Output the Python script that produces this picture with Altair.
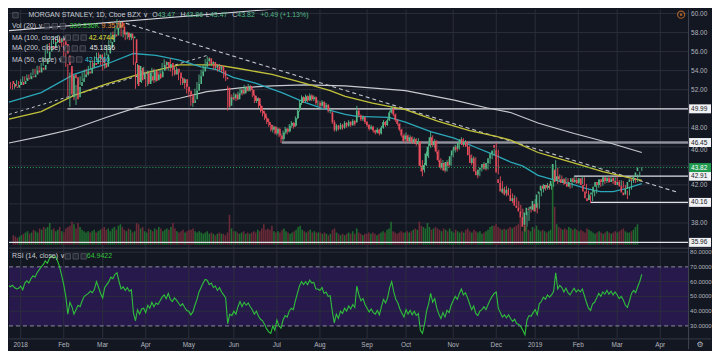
import altair as alt
import pandas as pd

# ---------------- data ----------------
# daily candles (open, high, low, close), one list per month
dec17 = [(52.9,53.1,52.4,52.6),(52.6,52.8,52.1,52.3),(52.3,52.6,52.0,52.2),(52.2,52.7,52.1,52.5),(52.5,53.0,52.4,52.8),(52.8,52.9,52.3,52.5)]
jan18 = [(52.6,53.1,52.5,52.9),(52.9,53.4,52.8,53.2),(53.2,53.4,52.9,53.1),(53.1,53.6,53.0,53.4),(53.4,53.6,53.1,53.3),
         (53.3,53.8,53.2,53.6),(53.6,54.2,53.5,54.0),(54.0,54.2,53.6,53.8),(53.8,54.5,53.7,54.3),(54.3,54.5,53.9,54.1),
         (54.1,54.8,54.0,54.6),(54.7,55.4,54.5,55.2),(55.2,56.2,55.0,56.0),(56.0,56.8,55.8,56.6),(56.6,56.9,56.1,56.3),
         (56.4,57.2,56.2,57.0),(57.0,57.6,56.8,57.3),(57.3,57.5,56.7,56.9),(57.0,57.7,56.9,57.4),(57.4,57.6,56.9,57.1),
         (57.1,57.4,56.5,56.7)]
feb18 = [(56.8,57.0,55.5,55.8),(55.6,55.9,54.4,54.6),(54.5,54.7,51.3,51.5),(51.2,53.8,50.2,53.5),(53.6,54.2,52.9,53.2),
         (53.3,53.5,50.9,51.0),(51.2,52.5,50.4,52.3),(52.4,53.0,52.0,52.8),(52.8,53.4,52.5,53.2),(53.3,53.8,52.9,53.6),
         (53.6,54.1,53.2,53.9),(53.9,54.2,53.4,53.7),(53.7,54.5,53.5,54.3),(54.3,55.0,54.1,54.8),(54.8,55.1,54.3,54.6),
         (54.7,55.5,54.5,55.3),(55.3,55.9,55.1,55.7),(55.7,55.9,55.1,55.3),(55.3,55.6,54.6,54.8)]
mar18 = [(54.8,55.3,54.0,54.3),(54.4,55.9,54.2,55.7),(55.8,56.6,55.6,56.4),(56.4,57.2,56.2,57.0),(57.0,58.0,56.9,57.8),
         (57.8,58.1,57.3,57.6),(57.7,58.7,57.5,58.5),(58.5,59.4,58.3,59.1),(59.1,59.2,58.4,58.6),(58.6,58.8,57.6,57.8),
         (57.8,58.3,57.5,58.0),(58.0,58.1,57.2,57.5),(57.5,58.1,57.3,57.9),(57.9,58.0,57.2,57.4),(57.4,57.9,57.2,57.6),
         (57.3,57.4,54.6,54.8),(54.6,54.9,52.1,52.4),(52.8,54.7,52.6,54.5),(54.3,54.5,52.8,53.0),(53.1,54.0,52.7,53.8),
         (53.9,54.4,53.6,53.9)]
apr18 = [(53.7,53.9,52.3,52.6),(52.6,54.0,52.4,53.8),(53.4,53.9,52.8,53.0),(53.0,54.3,52.9,54.1),(54.0,54.2,52.7,52.9),
         (53.0,53.8,52.8,53.6),(53.7,53.9,53.0,53.2),(53.3,54.1,53.1,53.9),(54.0,54.8,53.8,54.6),(54.6,55.2,54.4,54.9),
         (54.9,55.0,54.1,54.3),(54.3,54.9,54.0,54.7),(54.8,55.3,53.9,54.1),(54.1,54.3,53.4,53.6),(53.6,54.4,53.5,54.2),
         (54.2,54.4,53.6,53.8),(53.8,53.9,53.0,53.2),(53.2,53.4,52.5,52.7),(52.7,53.3,52.5,53.1),(53.1,53.2,52.1,52.3),
         (52.3,52.6,51.6,51.8)]
may18 = [(51.9,52.1,51.2,51.5),(51.5,51.7,50.3,50.6),(50.6,51.2,50.2,50.9),(51.0,52.1,50.9,51.9),(51.9,52.8,51.7,52.6),
         (52.6,53.6,52.5,53.4),(53.4,54.1,53.2,53.9),(53.9,54.6,53.7,54.4),(54.4,55.2,54.3,54.9),(55.0,55.5,54.8,55.3),
         (55.3,55.4,54.5,54.7),(54.7,55.2,54.5,54.9),(54.9,55.0,54.1,54.3),(54.3,54.8,54.1,54.6),(54.6,54.7,53.9,54.1),
         (54.1,54.7,54.0,54.5),(54.5,54.6,53.8,54.0),(54.0,54.2,53.2,53.4),(53.3,53.6,52.9,53.1),(52.2,52.4,49.8,50.2),
         (50.3,51.4,50.1,51.2),(51.2,51.5,50.7,51.0)]
jun18 = [(51.1,51.7,50.9,51.5),(51.5,51.6,50.8,51.0),(51.0,51.8,50.9,51.6),(51.6,52.2,51.4,52.0),(52.0,52.1,51.4,51.6),
         (51.6,52.5,51.5,52.3),(52.3,52.4,51.7,51.9),(51.9,52.6,51.8,52.4),(52.4,52.5,51.8,52.0),(52.0,52.1,51.2,51.4),
         (51.4,51.5,50.6,50.8),(50.8,51.3,50.6,51.1),(51.1,51.2,50.1,50.3),(50.3,50.5,49.6,49.8),(49.8,50.0,49.2,49.5),
         (49.5,49.7,48.8,49.0),(49.0,49.2,48.4,48.6),(48.6,48.9,48.1,48.3),(48.3,48.4,47.6,47.8),(47.8,48.3,47.5,48.1),
         (48.1,48.2,47.3,47.4)]
jul18 = [(47.4,48.1,47.2,47.9),(47.9,48.0,47.0,47.2),(47.2,47.4,46.4,46.8),(46.8,47.7,46.6,47.5),(47.5,48.1,47.3,47.9),
         (47.9,48.0,47.3,47.6),(47.6,48.4,47.5,48.2),(48.2,48.7,48.0,48.5),(48.5,48.6,47.9,48.1),(48.2,49.2,48.1,49.0),
         (49.0,50.0,48.9,49.8),(49.9,50.9,49.7,50.6),(50.6,51.4,50.4,51.2),(51.2,51.3,50.6,50.8),(50.8,51.5,50.7,51.3),
         (51.3,51.4,50.7,50.9),(50.9,51.6,50.8,51.4),(51.4,51.5,50.8,51.0),(51.0,51.4,50.8,51.2),(51.2,51.3,50.4,50.6),
         (50.6,50.9,50.3,50.6)]
aug18 = [(50.6,50.8,50.1,50.3),(50.3,50.9,50.2,50.7),(50.7,50.8,49.9,50.1),(50.1,50.6,50.0,50.4),(50.4,50.5,49.6,49.8),
         (49.8,50.1,49.5,49.9),(49.6,49.7,48.4,48.6),(48.6,48.8,47.6,47.8),(47.8,48.4,47.6,48.2),(48.2,48.3,47.7,47.9),
         (47.9,48.5,47.8,48.3),(48.3,48.4,47.8,48.0),(48.0,48.7,47.9,48.5),(48.5,48.6,48.0,48.2),(48.2,48.8,48.1,48.6),
         (48.6,48.7,48.1,48.3),(48.3,48.9,48.2,48.7),(48.7,48.8,48.2,48.4),(48.6,50.3,48.5,49.8),(49.8,50.0,49.1,49.3),
         (49.3,49.4,48.7,48.9),(48.9,49.3,48.7,49.1),(49.1,49.2,48.4,48.6)]
sep18 = [(48.6,48.7,48.1,48.3),(48.3,48.4,47.7,47.9),(47.9,48.3,47.8,48.1),(48.1,48.2,47.5,47.7),(47.7,47.8,47.3,47.5),
         (47.5,48.0,47.4,47.8),(47.8,47.9,47.2,47.4),(47.4,48.2,47.3,48.0),(48.0,48.8,47.9,48.6),(48.6,48.7,48.1,48.3),
         (48.3,49.0,48.2,48.8),(48.8,49.8,48.7,49.6),(49.6,50.3,49.5,50.0),(50.0,50.1,49.2,49.4),(49.4,49.5,48.6,48.8),
         (48.8,48.9,48.2,48.4),(48.4,48.5,47.6,47.8),(47.8,47.9,47.0,47.2),(47.2,47.4,46.4,46.6)]
oct18 = [(46.8,47.5,46.6,47.2),(47.2,47.3,46.4,46.6),(46.6,47.2,46.5,47.0),(47.0,47.1,46.3,46.5),(46.5,47.0,46.3,46.8),
         (46.8,46.9,46.1,46.3),(46.3,46.9,46.2,46.6),(46.5,46.6,43.9,44.0),(44.0,44.6,42.9,43.4),(43.6,44.3,43.3,44.1),
         (44.1,45.5,44.0,45.3),(45.0,46.3,44.8,46.0),(46.1,47.6,45.9,47.0),(47.0,47.2,46.0,46.2),(46.2,46.8,45.9,46.6),
         (46.6,46.7,45.3,45.5),(45.5,45.7,44.4,44.6),(44.6,44.8,43.6,43.8),(43.8,44.6,43.5,44.3),(44.3,44.4,43.3,43.5),
         (43.5,44.6,43.4,44.4),(44.4,44.7,43.8,44.0),(44.1,45.2,44.0,45.0)]
nov18 = [(45.1,45.8,44.9,45.6),(45.6,46.2,45.4,46.0),(46.0,46.1,45.5,45.7),(45.8,46.6,45.7,46.4),(46.4,47.0,46.3,46.8),
         (46.8,46.9,46.0,46.2),(46.2,46.7,46.1,46.5),(46.5,46.6,45.8,46.0),(46.0,46.1,44.9,45.1),(45.1,45.2,44.1,44.3),
         (44.3,45.0,44.2,44.8),(44.8,44.9,43.2,43.4),(43.4,43.6,42.7,43.0),(43.0,43.8,42.9,43.6),(43.6,44.0,43.4,43.8),
         (43.8,44.4,43.6,44.2),(44.2,44.3,43.5,43.7),(43.7,44.5,43.6,44.3),(44.3,45.0,44.2,44.8),(44.8,45.5,44.7,45.3),
         (45.3,45.8,45.1,45.6)]
dec18 = [(46.2,46.4,45.4,45.9),(45.6,45.7,43.1,43.3),(42.6,42.9,41.8,42.2),(42.2,42.4,41.1,41.3),(41.2,41.8,40.9,41.6),
         (41.6,41.9,40.8,41.0),(41.1,41.7,40.9,41.5),(41.5,41.6,40.7,40.9),(40.9,41.1,40.1,40.3),(40.3,40.9,40.2,40.6),
         (40.6,40.7,39.6,39.8),(39.8,40.3,39.4,39.6),(39.6,39.9,39.0,39.2),(39.2,39.5,38.4,38.6),(38.6,38.7,37.1,37.6),
         (37.8,39.2,37.6,39.1),(38.8,39.7,38.2,39.6),(39.5,39.8,39.1,39.4),(39.5,39.9,39.3,39.7)]
jan19 = [(39.4,40.5,39.2,40.3),(40.0,40.1,39.0,39.2),(39.6,41.2,39.5,41.0),(41.1,41.6,40.8,41.3),(41.4,42.1,41.2,41.9),
         (41.9,42.0,41.4,41.6),(41.6,42.2,41.5,42.0),(42.0,42.1,41.5,41.7),(41.7,42.1,41.5,41.9),(41.9,42.6,41.8,42.4),
         (42.6,44.6,42.5,44.2),(43.6,43.8,42.1,42.3),(42.4,43.1,42.3,42.9),(42.9,43.0,42.4,42.6),(42.6,42.7,42.0,42.2),
         (42.2,42.8,42.1,42.6),(42.6,42.7,41.9,42.1),(42.1,42.2,41.6,41.8),(41.8,42.5,41.7,42.3),(42.3,42.9,42.2,42.7),
         (42.7,42.8,42.1,42.3)]
feb19 = [(42.3,42.7,42.1,42.5),(42.5,42.6,42.0,42.2),(42.2,42.9,42.1,42.7),(42.7,42.8,41.9,42.0),(42.0,42.1,41.1,41.3),
         (41.3,41.4,40.4,40.6),(40.6,40.9,40.1,40.3),(40.4,41.2,40.3,41.0),(41.0,41.4,40.8,41.2),(41.2,42.0,41.1,41.8),
         (41.8,42.5,41.7,42.3),(42.3,42.4,41.8,42.0),(42.0,42.8,41.9,42.6),(42.6,42.7,42.1,42.3),(42.3,43.0,42.2,42.8),
         (42.8,42.9,42.2,42.4),(42.4,42.9,42.3,42.7),(42.7,42.8,42.1,42.3),(42.3,42.8,42.2,42.6)]
mar19 = [(42.7,42.9,42.2,42.4),(42.4,42.5,41.8,42.0),(42.0,42.5,41.9,42.3),(42.3,42.4,41.7,41.9),(41.9,42.0,41.0,41.2),
         (41.2,41.4,40.5,40.9),(41.0,41.8,40.9,41.6),(41.6,42.5,41.5,42.3),(42.3,42.8,42.2,42.6),(42.6,42.7,42.2,42.4),
         (42.4,43.1,42.3,42.9),(42.9,43.4,42.8,43.3),(43.47,43.86,43.47,43.82)]

# volume per bar (millions)
volume_m = [7, 6, 5, 6, 7, 8,
    9, 10, 8, 9, 11, 10, 9, 12, 11, 13, 12, 13, 16, 11, 12, 10, 11, 13, 10, 9, 12,
    13, 14, 17, 15, 12, 16, 13, 11, 10, 9, 10, 9, 10, 11, 9, 10, 11, 12, 13,
    11, 12, 10, 12, 13, 11, 14, 15, 13, 11, 10, 12, 11, 9, 10, 16, 15, 12, 13, 10, 9,
    12, 11, 10, 12, 11, 13, 12, 10, 11, 12, 11, 13, 16, 12, 10, 9, 10, 11, 9, 10, 11,
    11, 12, 10, 9, 10, 9, 8, 9, 10, 8, 9, 8, 7, 8, 9, 8, 8, 7, 9, 22, 12, 10,
    10, 9, 8, 9, 10, 8, 9, 8, 9, 10, 9, 11, 10, 12, 15, 11, 12, 11, 14, 10, 9,
    10, 9, 11, 12, 10, 9, 8, 9, 10, 11, 13, 14, 11, 10, 9, 10, 11, 9, 10, 9, 9,
    9, 8, 9, 8, 7, 8, 11, 12, 9, 8, 7, 8, 7, 8, 9, 8, 10, 8, 12, 9, 8, 7, 8,
    8, 9, 8, 9, 8, 7, 8, 9, 10, 9, 11, 12, 17, 10, 9, 8, 9, 10, 9,
    9, 10, 9, 10, 11, 12, 11, 17, 14, 13, 12, 16, 13, 11, 12, 13, 12, 11, 10, 12, 11, 10, 12,
    10, 9, 11, 10, 9, 10, 9, 11, 12, 10, 9, 11, 10, 9, 10, 8, 9, 10, 11, 13, 14,
    14, 15, 13, 12, 11, 12, 11, 12, 13, 12, 13, 14, 15, 21, 10, 14, 13, 11, 10,
    13, 12, 14, 11, 10, 11, 10, 9, 10, 11, 59, 28, 15, 13, 12, 11, 12, 11, 13, 12, 11,
    12, 11, 10, 11, 10, 9, 12, 11, 10, 9, 8, 9, 10, 9, 8, 9, 10, 9, 8,
    9, 10, 9, 10, 11, 12, 10, 9, 9, 10, 11, 13, 15]

# RSI(14) per bar
rsi14 = [57.5, 56.5, 57.5, 56, 55, 55.5,
    57, 54.5, 59, 60.5, 59, 62, 64, 63, 66, 68, 70, 71.5, 74, 72.5, 75.5, 77.5, 76, 77, 74, 70, 64,
    58, 50, 38, 46, 43, 38, 41, 44, 43, 47, 50, 51, 52, 53.5, 52.5, 55, 60, 56, 52,
    49, 56, 58, 60, 63, 62, 65, 66, 60, 55, 56.5, 54, 56, 53.5, 54.5, 39, 33.5, 41, 38, 41.5, 42,
    39, 44, 42, 46, 43, 45.5, 44.5, 47, 49.5, 51, 48.5, 52, 48, 46.5, 49, 47.5, 45.5, 43.5, 45, 42.5, 40.5,
    40, 37.5, 39.5, 44, 48, 53, 56, 59, 61.5, 61, 58, 59, 56, 57, 54, 56, 53, 51, 49, 31.5, 38, 37,
    40, 38, 43, 46.5, 43, 46, 44, 45.5, 43, 41, 38, 40, 36.5, 34.5, 33.5, 31, 28, 26, 25, 30, 27,
    34, 30, 28.5, 34, 37, 36, 40, 42, 41, 47, 52, 57, 60, 58, 60, 58, 61, 59, 59.5, 55, 55,
    54, 56, 52, 53, 50, 50.5, 40, 32, 38, 35, 40, 38.5, 42, 40, 43.5, 41.5, 44.5, 42.5, 57, 51, 47, 48.5, 44.5,
    42, 39.5, 41.5, 39, 38, 40.5, 37.5, 43, 48, 45.5, 49, 56, 60, 53, 48, 45.5, 41.5, 38.5, 36,
    41, 38, 40.5, 37.5, 40, 37, 38.5, 27, 25, 31, 40, 45, 52, 46, 48.5, 42, 38, 35, 39, 36, 40.5, 39, 44,
    47, 50, 48, 52, 55, 51, 52.5, 49, 45, 41, 43.5, 38.5, 37, 40, 41, 43, 41, 44.5, 47.5, 50, 52,
    53, 42, 39, 36, 37.5, 35.5, 37.5, 35, 33, 34.5, 31.5, 31, 29.5, 27, 24, 34, 37, 36.5, 39,
    41, 37.5, 45, 46.5, 49.5, 48, 51, 49.5, 51, 53.5, 66, 55, 57.5, 56, 53, 55.5, 52.5, 51, 53.5, 55.5, 53,
    54.5, 53, 55, 50.5, 46, 42, 40.5, 45, 46, 49, 52, 50, 53, 51.5, 54, 51.5, 53.5, 51, 53,
    51, 48.5, 50, 47.5, 44, 42.5, 47, 52, 54, 52.5, 56.5, 60, 64.94]

# moving averages read as (bar index, value) points
ma50_pts = [(-5.7, 50.7), (10, 51.7), (26, 53.6), (42, 54.7), (55, 55.8), (66, 55.6), (77.5, 55.1), (88, 54.4),
            (95.5, 54.1), (103.6, 53.3), (114.5, 52.7), (127.4, 51.7), (138.3, 50.7), (146.4, 50.1), (158.3, 49.4),
            (164, 49.2), (179.7, 49.1), (187.7, 48.6), (200, 47.6), (211.5, 46.9), (222.4, 45.9), (230.5, 45.2),
            (239, 44.4), (244.8, 44.0), (252.4, 43.0), (260.5, 42.5), (268.5, 42.1), (276, 41.6), (282.8, 41.3),
            (289, 41.3), (295.2, 41.6), (303, 42.13)]
ma100_pts = [(-5.7, 48.9), (10, 49.7), (26, 51.4), (42, 52.6), (57.5, 53.6), (77.5, 54.6), (95.5, 54.6), (107, 54.2),
             (122.6, 53.6), (138.3, 52.7), (151, 51.9), (158.3, 51.3), (171.6, 50.6), (187.7, 49.9), (203.4, 48.7),
             (219, 47.7), (232, 47.1), (239, 46.7), (252.4, 45.4), (260.5, 44.9), (268.5, 44.4), (284, 43.4),
             (296, 42.8), (303, 42.47)]
ma200_pts = [(-5.7, 46.4), (10, 47.1), (26, 47.9), (42, 49.1), (57.5, 50.2), (77.5, 51.1), (90.8, 51.8), (107, 52.2),
             (122.6, 52.4), (138.3, 52.5), (158.3, 52.4), (187.7, 51.9), (211.5, 50.9), (227.2, 50.1), (239, 49.6),
             (252.4, 48.5), (270, 47.4), (287.5, 46.4), (303, 45.4)]

# drawn objects
trend_solid = [(-5.7, 58.2), (125, 60.5)]
trend_down = [(48, 59.2), (320.8, 41.2)]
trend_up = [(-5.7, 49.4), (91, 55.6)]
level_price = [49.99, 46.45, 42.91, 40.16, 35.96]
level_start = [22.8, 127.4, 270.0, 278.0, -5.7]
last_close = 43.82

# axes
month_start = [0, 21, 40, 61, 82, 104, 125, 146, 169, 188, 211, 232, 251, 272, 291, 312]
month_names = ["2018", "Feb", "Mar", "Apr", "May", "Jun", "Jul", "Aug", "Sep", "Oct", "Nov", "Dec",
               "2019", "Feb", "Mar", "Apr"]
price_grid = [38, 40, 42, 44, 46, 48, 50, 52, 54, 56, 58, 60]
price_labels = [38, 42, 48, 52, 54, 56, 58, 60]
price_label_under_box = [46]
rsi_grid = [40, 50, 60, 80]
rsi_labels = [80, 70, 60, 50, 40, 30]

# ---------------- build frames ----------------
months = [dec17, jan18, feb18, mar18, apr18, may18, jun18, jul18, aug18, sep18, oct18, nov18,
          dec18, jan19, feb19, mar19]
rows = []
idx = -6
for m in months:
    for o, h, l, c in m:
        rows.append({"i": idx, "o": o, "h": h, "l": l, "c": c})
        idx += 1
if not (len(rows) == len(volume_m) == len(rsi14)):
    raise ValueError(f"length mismatch {len(rows)} {len(volume_m)} {len(rsi14)}")
df = pd.DataFrame(rows)
df["v"] = volume_m
df["rsi"] = rsi14

BG = "#131722"
GRID = "#2a2e3a"
BAND = "#27194c"
UP, DN = "#53b987", "#eb4d5c"
VUP, VDN = "#1f6a2e", "#6a2a38"
TXT = "#c9ccd4"
AX = "#b2b5be"
FONT = "Liberation Sans"

df["col"] = [UP if c >= o else DN for o, c in zip(df.o, df.c)]
df["vcol"] = [VUP if c >= o else VDN for o, c in zip(df.o, df.c)]

W = 682
PB = 239
RT, RB = 240, 330

XS = alt.Scale(domain=[-5.7, 325.6], range=[0, W], nice=False, zero=False)
PS = alt.Scale(domain=[35.4, 60.4], range=[PB, 0], nice=False, zero=False)
VS = alt.Scale(domain=[0, 173], range=[236, 0], nice=False, zero=True)
RS = alt.Scale(domain=[21.6, 82.3], range=[RB, RT], nice=False, zero=False)
PXS = alt.Scale(domain=[0, 720], range=[0, 720], nice=False, zero=False)
PYS = alt.Scale(domain=[0, 360], range=[0, 360], nice=False, zero=False)


def xi(f="i"):
    return alt.X(f"{f}:Q", scale=XS, axis=None)


def yp(f):
    return alt.Y(f"{f}:Q", scale=PS, axis=None)


def yr(f):
    return alt.Y(f"{f}:Q", scale=RS, axis=None)


one = pd.DataFrame({"z": [0]})
L = []

# RSI band
L.append(alt.Chart(pd.DataFrame({"lo": [30], "hi": [70]})).mark_rect(color=BAND).encode(
    x=alt.value(0), x2=alt.value(W), y=yr("lo"), y2="hi:Q"))

# grids
mdf = pd.DataFrame({"i": month_start, "t": month_names})
L.append(alt.Chart(mdf).mark_rule(color=GRID, strokeWidth=1).encode(
    x=xi(), y=alt.value(0), y2=alt.value(RB)))
L.append(alt.Chart(pd.DataFrame({"p": price_grid})).mark_rule(color=GRID, strokeWidth=1).encode(
    x=alt.value(0), x2=alt.value(W), y=yp("p")))
L.append(alt.Chart(pd.DataFrame({"r": rsi_grid})).mark_rule(color=GRID, strokeWidth=1).encode(
    x=alt.value(0), x2=alt.value(W), y=yr("r")))

# volume
L.append(alt.Chart(df).mark_bar(size=1.6, clip=True).encode(
    x=xi(), y=alt.Y("v:Q", scale=VS, axis=None), color=alt.Color("vcol:N", scale=None)))

# horizontal levels
lev = pd.DataFrame({"p": level_price, "a": level_start})
L.append(alt.Chart(lev).transform_filter("datum.p != 46.45").mark_rule(
    color="#dfe1e6", strokeWidth=1.2, clip=True).encode(x=xi("a"), x2=alt.value(W), y=yp("p")))
L.append(alt.Chart(lev).transform_filter("datum.p == 46.45").mark_rule(
    color="#8e919a", strokeWidth=2.6, clip=True).encode(x=xi("a"), x2=alt.value(W), y=yp("p")))

# trend lines
def seg(pts):
    return pd.DataFrame({"i": [p[0] for p in pts], "p": [p[1] for p in pts]})

L.append(alt.Chart(seg(trend_solid)).mark_line(color="#d6d8de", strokeWidth=1.2, clip=True).encode(
    x=xi(), y=yp("p")))
L.append(alt.Chart(seg(trend_down)).mark_line(color="#c3c5cc", strokeWidth=1.1, strokeDash=[4, 3], clip=True).encode(
    x=xi(), y=yp("p")))
L.append(alt.Chart(seg(trend_up)).mark_line(color="#c3c5cc", strokeWidth=1.0, strokeDash=[3, 3], clip=True).encode(
    x=xi(), y=yp("p")))

# moving averages
L.append(alt.Chart(seg(ma200_pts)).mark_line(color="#c8c9cf", strokeWidth=1.2, clip=True).encode(x=xi(), y=yp("p")))
L.append(alt.Chart(seg(ma100_pts)).mark_line(color="#c2c23a", strokeWidth=1.3, clip=True).encode(x=xi(), y=yp("p")))
L.append(alt.Chart(seg(ma50_pts)).mark_line(color="#2aa7b8", strokeWidth=1.3, clip=True).encode(x=xi(), y=yp("p")))

# candles
L.append(alt.Chart(df).mark_rule(strokeWidth=0.9, clip=True).encode(
    x=xi(), y=yp("l"), y2="h:Q", color=alt.Color("col:N", scale=None)))
L.append(alt.Chart(df).mark_bar(size=1.6, clip=True).encode(
    x=xi(), y=yp("o"), y2="c:Q", color=alt.Color("col:N", scale=None)))

# last price line
L.append(alt.Chart(pd.DataFrame({"p": [last_close]})).mark_rule(
    color="#2aa55a", strokeWidth=1, strokeDash=[1, 2]).encode(x=alt.value(0), x2=alt.value(W), y=yp("p")))

# RSI
L.append(alt.Chart(pd.DataFrame({"r": [30, 70]})).mark_rule(
    color="#8c8f99", strokeWidth=1, strokeDash=[4, 3]).encode(x=alt.value(0), x2=alt.value(W), y=yr("r")))
L.append(alt.Chart(df).mark_line(color="#2fbf3a", strokeWidth=1.1, clip=True).encode(x=xi(), y=yr("rsi")))

# separators
L.append(alt.Chart(one).mark_rule(color="#2e323e", strokeWidth=1.6).encode(
    x=alt.value(0), x2=alt.value(W + 23), y=alt.value(PB + 0.5)))
L.append(alt.Chart(one).mark_rule(color="#2e323e", strokeWidth=1.2).encode(
    x=alt.value(0), x2=alt.value(W + 23), y=alt.value(RB + 0.5)))
L.append(alt.Chart(one).mark_rule(color="#434753", strokeWidth=1).encode(
    x=alt.value(W + 0.5), y=alt.value(0), y2=alt.value(RB + 11)))

# right price axis labels
L.append(alt.Chart(pd.DataFrame({"p": price_labels, "t": [f"{v:.2f}" for v in price_labels]})).mark_text(
    align="left", baseline="middle", fontSize=6.5, font=FONT, color=AX).encode(
    x=alt.value(W + 3), y=yp("p"), text="t:N"))
# the 46.00 label peeks out just below the 46.45 box
L.append(alt.Chart(pd.DataFrame({"p": price_label_under_box,
                                 "t": [f"{v:.2f}" for v in price_label_under_box]})).mark_text(
    align="left", baseline="middle", fontSize=6.5, font=FONT, color=AX, dy=3).encode(
    x=alt.value(W + 3), y=yp("p"), text="t:N"))
box = pd.DataFrame({"p": level_price + [last_close],
                    "t": [f"{v:.2f}" for v in level_price + [last_close]],
                    "bg": ["#f0f1f4"] * 5 + ["#1f9a4f"],
                    "fg": ["#131722"] * 5 + ["#ffffff"]})
L.append(alt.Chart(box).mark_rect(yOffset=-4.5, y2Offset=4.5).encode(
    x=alt.value(W + 1), x2=alt.value(W + 23), y=yp("p"), y2="p:Q", color=alt.Color("bg:N", scale=None)))
L.append(alt.Chart(box).mark_text(align="left", baseline="middle", fontSize=6.5, font=FONT).encode(
    x=alt.value(W + 3), y=yp("p"), text="t:N", color=alt.Color("fg:N", scale=None)))

# RSI axis labels
L.append(alt.Chart(pd.DataFrame({"r": rsi_labels, "t": [f"{v:.4f}" for v in rsi_labels]})).mark_text(
    align="left", baseline="middle", fontSize=6, font=FONT, color=AX).encode(
    x=alt.value(W + 2), y=yr("r"), text="t:N"))

# time axis labels
L.append(alt.Chart(mdf).mark_text(align="center", baseline="middle", fontSize=6.5, font=FONT, color=AX).encode(
    x=xi(), y=alt.value(337), text="t:N"))

# header texts
GV = "#53b987"
hdr = pd.DataFrame([
    (19.5, 5.5, "MORGAN STANLEY, 1D, Cboe BZX \u2228", TXT),
    (143.8, 5.5, "O", TXT), (149.3, 5.5, "43.47", GV),
    (172.2, 5.5, "H", TXT), (177.4, 5.5, "43.86", GV),
    (197.7, 5.5, "L", TXT), (201.8, 5.5, "43.47", GV),
    (224.1, 5.5, "C", TXT), (229.3, 5.5, "43.82", GV),
    (252.5, 5.5, "+0.49 (+1.13%)", GV),
    (3, 16.6, "Vol (20) \u2228", TXT), (60.7, 16.6, "300.836K", "#36c23d"), (93, 16.6, "9.357M", "#e3872d"),
    (3, 28, "MA (100, close) \u2228", TXT), (80.2, 28, "42.4744", "#e2e23a"),
    (3, 38.9, "MA (200, close) \u2228", TXT), (81.2, 38.9, "45.1836", "#e6e6e6"),
    (3, 50, "MA (50, close) \u2228", TXT), (76.3, 50, "42.1260", "#35c3d6"),
    (3, 247.7, "RSI (14, close) \u2228", TXT), (78.2, 247.7, "64.9422", "#36c23d"),
], columns=["x", "y", "t", "c"])
L.append(alt.Chart(hdr).mark_text(align="left", baseline="middle", fontSize=7, font=FONT).encode(
    x=alt.X("x:Q", scale=PXS, axis=None), y=alt.Y("y:Q", scale=PYS, axis=None),
    text="t:N", color=alt.Color("c:N", scale=None)))

icons = pd.DataFrame([(6.5, 5.5),
                      (38, 16.6), (46, 16.6), (54, 16.6),
                      (59, 28), (67, 28), (75, 28),
                      (58, 38.9), (66, 38.9), (74, 38.9),
                      (54.5, 50), (62.5, 50), (70.5, 50),
                      (59, 247.7), (67, 247.7), (75, 247.7)], columns=["x", "y"])
L.append(alt.Chart(icons).mark_square(size=30, color="#2c303b", stroke="#7c7f8a", strokeWidth=0.7).encode(
    x=alt.X("x:Q", scale=PXS, axis=None), y=alt.Y("y:Q", scale=PYS, axis=None)))

marks = pd.DataFrame({"x": [675], "y": [5]})
L.append(alt.Chart(marks).mark_point(shape="circle", size=50, filled=False, color="#e8802a", strokeWidth=1.2).encode(
    x=alt.X("x:Q", scale=PXS, axis=None), y=alt.Y("y:Q", scale=PYS, axis=None)))
L.append(alt.Chart(marks).mark_point(shape="square", size=5, filled=True, color="#e8802a").encode(
    x=alt.X("x:Q", scale=PXS, axis=None), y=alt.Y("y:Q", scale=PYS, axis=None)))
L.append(alt.Chart(pd.DataFrame({"x": [W + 12], "y": [337], "t": ["\u2699"]})).mark_text(
    align="center", baseline="middle", fontSize=8, font="DejaVu Sans", color=AX).encode(
    x=alt.X("x:Q", scale=PXS, axis=None), y=alt.Y("y:Q", scale=PYS, axis=None), text="t:N"))

chart = alt.layer(*L).resolve_scale(x="independent", y="independent").properties(
    width=W, height=RB, padding=0, background=BG).configure_view(stroke=None)

chart.save("out.html", embed_options={"renderer": "svg", "actions": False})
